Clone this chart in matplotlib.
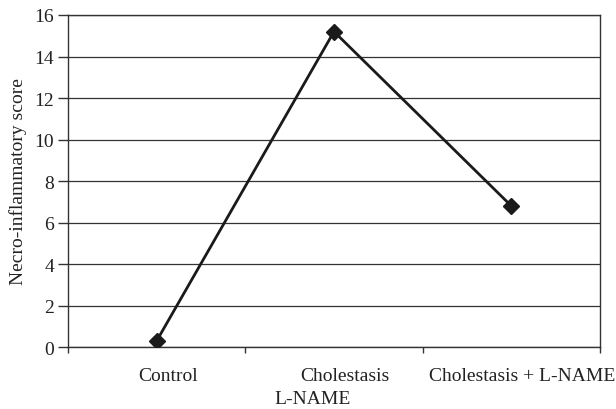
import matplotlib
matplotlib.use("Agg")
import matplotlib.pyplot as plt
import matplotlib.transforms as mtransforms

categories = ["Control", "Cholestasis", "Cholestasis + L-NAME"]
scores = [0.3, 15.2, 6.8]
yticks = [0, 2, 4, 6, 8, 10, 12, 14, 16]

plt.rcParams["font.family"] = ["Liberation Serif", "DejaVu Serif"]
FS = 14

fig = plt.figure(figsize=(6.16, 4.10), dpi=100)
ax = fig.add_axes([0.1104, 0.151, 0.8636, 0.810])

x = list(range(len(categories)))
ax.plot(x, scores, color="#1a1a1a", lw=2.0, marker="D", ms=8, mfc="#1a1a1a", mec="#1a1a1a", zorder=3)

ax.set_xlim(-0.5, len(categories) - 0.5)
ax.set_ylim(0, 16)
ax.set_yticks(yticks)
ax.set_yticklabels([str(v) for v in yticks], fontsize=FS, color="#222222")
ax.yaxis.grid(True, color="#333333", lw=0.9)
ax.set_axisbelow(True)

# major ticks on category boundaries, labels on minor ticks at centres
ax.set_xticks([i - 0.5 for i in range(len(categories) + 1)])
ax.set_xticklabels([])
ax.set_xticks(x, minor=True)
ax.set_xticklabels(categories, minor=True, fontsize=FS, color="#222222")
ax.tick_params(axis="x", which="minor", length=0, pad=14)
ax.tick_params(axis="x", which="major", length=4.5, width=1.0, color="#333333")
ax.tick_params(axis="y", length=7, width=1.0, color="#333333", pad=3)
off = mtransforms.ScaledTranslation(0.11, 0, fig.dpi_scale_trans)
for lab in ax.get_xticklabels(minor=True):
    lab.set_transform(lab.get_transform() + off)

for s in ax.spines.values():
    s.set_color("#333333")
    s.set_linewidth(1.0)

ax.set_xlabel("L-NAME", fontsize=FS, color="#222222")
ax.xaxis.set_label_coords(0.46, -0.13)
ax.set_ylabel("Necro-inflammatory score", fontsize=FS, color="#222222", labelpad=5)

fig.savefig("out.png", dpi=100)
